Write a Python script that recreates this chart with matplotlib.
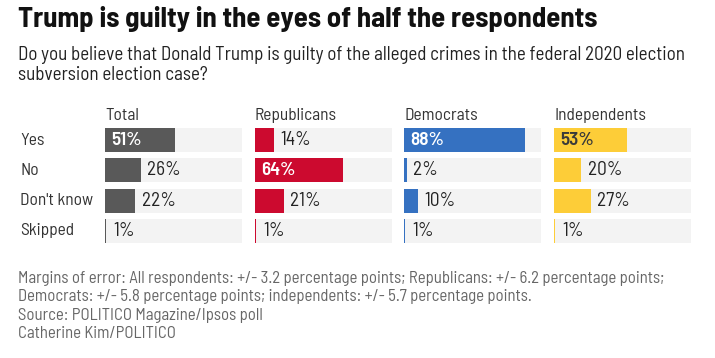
import matplotlib
matplotlib.use("Agg")
import matplotlib.pyplot as plt
from matplotlib import font_manager

names = {f.name for f in font_manager.fontManager.ttflist}
prefs = ["Barlow Semi Condensed", "Roboto Condensed", "Sofia Sans Semi Condensed",
         "Saira SemiCondensed", "Liberation Sans Narrow", "DejaVu Sans"]
FONT = next(p for p in prefs if p in names)
plt.rcParams['font.family'] = [FONT, 'DejaVu Sans']

answers = ["Yes", "No", "Don't know", "Skipped"]
groups = ["Total", "Republicans", "Democrats", "Independents"]
total = [51, 26, 22, 1]
republicans = [14, 64, 21, 1]
democrats = [88, 2, 10, 1]
independents = [53, 20, 27, 1]
values = [total, republicans, democrats, independents]
colors = ["#595959", "#cc0a2f", "#3571c1", "#fdcd38"]
inside_text = ["white", "white", "white", "#3a3a3a"]

title = "Trump is guilty in the eyes of half the respondents"
subtitle = ["Do you believe that Donald Trump is guilty of the alleged crimes in the federal 2020 election",
            "subversion election case?"]
footnote = ["Margins of error: All respondents: +/- 3.2 percentage points; Republicans: +/- 6.2 percentage points;",
            "Democrats: +/- 5.8 percentage points; independents: +/- 5.7 percentage points.",
            "Source: POLITICO Magazine/Ipsos poll",
            "Catherine Kim/POLITICO"]

W, H = 715, 358
fig = plt.figure(figsize=(W / 100, H / 100), dpi=100)
fig.patch.set_facecolor("white")
renderer = fig.canvas.get_renderer()


def fit_size(text, target_px, **kw):
    t = fig.text(0, 0, text, fontsize=10, **kw)
    w = t.get_window_extent(renderer).width
    t.remove()
    return 10 * target_px / w


def line(x, ybase, s, size, **kw):
    fig.text(x / W, 1 - ybase / H, s, fontsize=size, va="baseline", ha="left", **kw)


ts = fit_size(title, 597 - 18, fontweight="bold")
line(18, 27, title, ts, fontweight="bold", color="#111111")

ss = fit_size(subtitle[0], 686 - 18)
for i, s in enumerate(subtitle):
    line(18, 59.5 + 20.5 * i, s, ss, color="#222222")

fs = fit_size(footnote[0], 668 - 18)
for i, s in enumerate(footnote):
    line(18, 283.3 + 18.2 * i, s, fs, color="#666666")

ls = fit_size("Don't know", 73)
vs = ls * 1.1
bs = ls * 1.1

lefts = [105, 255, 404, 554]
pw = 137
row_h = 30
top_px, bot_px = 128.3 - 0.1 * row_h, 242.7 + 0.1 * row_h
for i, (g, vals, c, itc) in enumerate(zip(groups, values, colors, inside_text)):
    ax = fig.add_axes([lefts[i] / W, 1 - bot_px / H, pw / W, (bot_px - top_px) / H])
    y = list(range(len(answers)))
    ax.barh(y, [100] * len(y), height=0.8, color="#f3f3f3", zorder=0)
    ax.barh(y, vals, height=0.8, color=c, zorder=1)
    ax.set_xlim(0, 100)
    ax.set_ylim(3.5, -0.5)
    ax.axis("off")
    mx = max(vals)
    for yi, v in zip(y, vals):
        if v == mx:
            ax.annotate(f"{v}%", (0, yi), xytext=(6.5 * 0.72, 0), textcoords="offset points",
                        va="center", ha="left", fontsize=bs, fontweight="semibold", color=itc)
        else:
            ax.annotate(f"{v}%", (v, yi), xytext=(6.5 * 0.72, 0), textcoords="offset points",
                        va="center", ha="left", fontsize=vs, color="#222222")
    ax.annotate(g, (0, -0.5), xytext=(0, 5 * 0.72), textcoords="offset points",
                va="baseline", ha="left", fontsize=ls, color="#333333")
    if i == 0:
        for yi, a in zip(y, answers):
            ax.annotate(a, (0, yi), xycoords=("axes fraction", "data"), xytext=(-(105 - 20) * 0.72, 0),
                        textcoords="offset points", va="center", ha="left", fontsize=ls, color="#333333")

fig.savefig("out.png", dpi=100)
